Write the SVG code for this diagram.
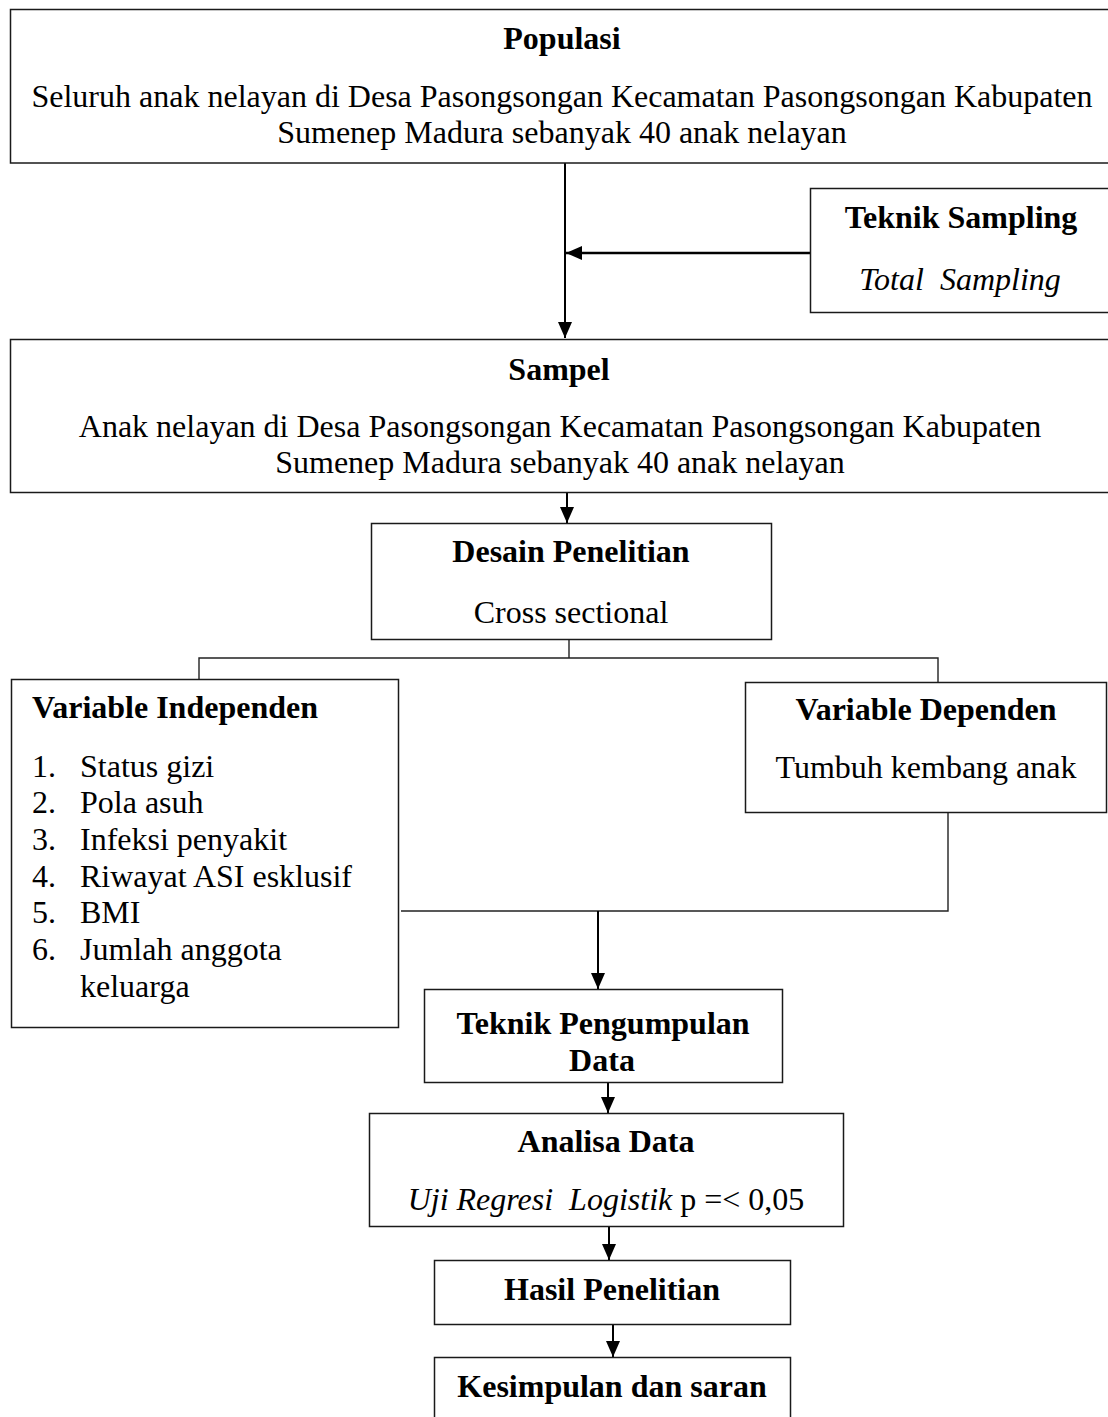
<svg xmlns="http://www.w3.org/2000/svg" width="1108" height="1417" viewBox="0 0 1108 1417">
<style>
text{font-family:"Liberation Serif","Times New Roman",serif;font-size:32px;fill:#000}
.b{font-weight:bold}
.i{font-style:italic}
.c{text-anchor:middle}
.box{fill:#fff;stroke:#1a1a1a;stroke-width:1.5}
.arr{fill:none;stroke:#000;stroke-width:2;marker-end:url(#ah)}
.ln{fill:none;stroke:#222;stroke-width:1.4}
</style>
<defs>
<marker id="ah" viewBox="0 0 16 14" refX="16" refY="7" markerWidth="16" markerHeight="14" markerUnits="userSpaceOnUse" orient="auto">
<path d="M0,0 L16,7 L0,14 z" fill="#000"/>
</marker>
</defs>
<rect width="1108" height="1417" fill="#fff"/>
<g id="connectors">
<line class="arr" x1="565" y1="163" x2="565" y2="338"/>
<line class="arr" x1="810" y1="253" x2="566" y2="253" style="stroke-width:2.6"/>
<line class="arr" x1="567" y1="492" x2="567" y2="523"/>
<polyline class="ln" points="569,639 569,658"/>
<polyline class="ln" points="199,679 199,658 938,658 938,682"/>
<polyline class="ln" points="948,812 948,911 401,911"/>
<line class="arr" x1="598" y1="911" x2="598" y2="989"/>
<line class="arr" x1="608" y1="1082" x2="608" y2="1113"/>
<line class="arr" x1="609" y1="1227" x2="609" y2="1260"/>
<line class="arr" x1="613" y1="1324" x2="613" y2="1357"/>
</g>
<g id="populasi">
<rect class="box" x="10.5" y="9.5" width="1110" height="153.5"/>
<text class="b c" x="562" y="49">Populasi</text>
<text class="c" x="562" y="107">Seluruh anak nelayan di Desa Pasongsongan Kecamatan Pasongsongan Kabupaten</text>
<text class="c" x="562" y="143">Sumenep Madura sebanyak 40 anak nelayan</text>
</g>
<g id="teknik-sampling">
<rect class="box" x="810.5" y="188.5" width="310" height="124"/>
<text class="b c" x="961" y="228">Teknik Sampling</text>
<text class="i c" x="960" y="290" xml:space="preserve">Total  Sampling</text>
</g>
<g id="sampel">
<rect class="box" x="10.5" y="339.5" width="1110" height="153"/>
<text class="b c" x="559" y="380">Sampel</text>
<text class="c" x="560" y="437">Anak nelayan di Desa Pasongsongan Kecamatan Pasongsongan Kabupaten</text>
<text class="c" x="560" y="473">Sumenep Madura sebanyak 40 anak nelayan</text>
</g>
<g id="desain">
<rect class="box" x="371.5" y="523.5" width="400" height="116"/>
<text class="b c" x="571" y="562">Desain Penelitian</text>
<text class="c" x="571" y="623">Cross sectional</text>
</g>
<g id="var-independen">
<rect class="box" x="11.5" y="679.5" width="387" height="348"/>
<text class="b" x="32" y="718">Variable Independen</text>
<text x="32" y="777">1.</text><text x="80" y="777">Status gizi</text>
<text x="32" y="813">2.</text><text x="80" y="813">Pola asuh</text>
<text x="32" y="850">3.</text><text x="80" y="850">Infeksi penyakit</text>
<text x="32" y="887">4.</text><text x="80" y="887">Riwayat ASI esklusif</text>
<text x="32" y="923">5.</text><text x="80" y="923">BMI</text>
<text x="32" y="960">6.</text><text x="80" y="960"><tspan x="80" y="960">Jumlah anggota</tspan><tspan x="80" y="997">keluarga</tspan></text>
</g>
<g id="var-dependen">
<rect class="box" x="745.5" y="682.5" width="361" height="130"/>
<text class="b c" x="926" y="720">Variable Dependen</text>
<text class="c" x="926" y="778">Tumbuh kembang anak</text>
</g>
<g id="teknik-pengumpulan">
<rect class="box" x="424.5" y="989.5" width="358" height="93"/>
<text class="b c" x="603" y="1034">Teknik Pengumpulan</text>
<text class="b c" x="602" y="1071">Data</text>
</g>
<g id="analisa">
<rect class="box" x="369.5" y="1113.5" width="474" height="113"/>
<text class="b c" x="606" y="1152">Analisa Data</text>
<text class="c" x="606" y="1210" xml:space="preserve"><tspan class="i">Uji Regresi  Logistik</tspan> p =&lt; 0,05</text>
</g>
<g id="hasil">
<rect class="box" x="434.5" y="1260.5" width="356" height="64"/>
<text class="b c" x="612" y="1300">Hasil Penelitian</text>
</g>
<g id="kesimpulan">
<rect class="box" x="434.5" y="1357.5" width="356" height="80"/>
<text class="b c" x="612" y="1397">Kesimpulan dan saran</text>
</g>
</svg>
